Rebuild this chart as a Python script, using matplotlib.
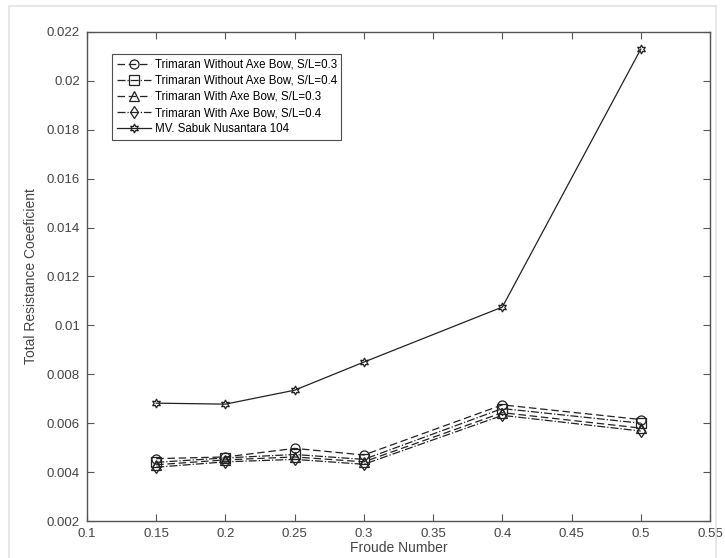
import numpy as np
import matplotlib.pyplot as plt
from matplotlib.patches import Rectangle

plt.rcParams['font.family'] = ['Liberation Sans', 'DejaVu Sans']

froude = [0.15, 0.2, 0.25, 0.3, 0.4, 0.5]

without_03 = [0.00455, 0.00462, 0.00497, 0.00470, 0.00675, 0.00615]
without_04 = [0.00440, 0.00458, 0.00472, 0.00452, 0.00660, 0.00600]
with_03 = [0.00430, 0.00450, 0.00462, 0.00442, 0.00643, 0.00580]
with_04 = [0.00420, 0.00442, 0.00452, 0.00432, 0.00632, 0.00568]
sabuk = [0.00682, 0.00678, 0.00735, 0.00850, 0.01075, 0.02130]

labels = ['Trimaran Without Axe Bow, S/L=0.3',
          'Trimaran Without Axe Bow, S/L=0.4',
          'Trimaran With Axe Bow, S/L=0.3',
          'Trimaran With Axe Bow, S/L=0.4',
          'MV. Sabuk Nusantara 104']

fig = plt.figure(figsize=(7.25, 5.58), dpi=100)
ax = fig.add_axes([87/725, 1 - 521/558, (710-87)/725, (521-32)/558])

# light frame around the whole figure (bottom edge runs off the image)
fig.patches.append(Rectangle((9/725, -0.02), 1 - 18/725, 1.02 - 6/558,
                             transform=fig.transFigure, fill=False,
                             edgecolor='#e3e3e3', lw=1.2))

lc = '#222222'
kw = dict(color=lc, lw=0.9, markersize=6.5, markerfacecolor='none',
          markeredgecolor=lc, markeredgewidth=0.9)
ax.plot(froude, without_03, linestyle=(0, (6, 3)), marker='o', label=labels[0], **kw)
ax.plot(froude, without_04, linestyle='-.', marker='s', label=labels[1], **kw)
ax.plot(froude, with_03, linestyle=(0, (6, 3)), marker='^', label=labels[2], **kw)
ax.plot(froude, with_04, linestyle='-.', marker='d', label=labels[3], **kw)
ax.plot(froude, sabuk, linestyle='-', marker=(6, 1, 0), label=labels[4], **kw)

ax.set_xlim(0.1, 0.55)
ax.set_ylim(0.002, 0.022)
ax.set_xticks(np.arange(0.1, 0.551, 0.05))
ax.set_xticklabels(['0.1', '0.15', '0.2', '0.25', '0.3', '0.35', '0.4', '0.45', '0.5', '0.55'])
ax.set_yticks(np.arange(0.002, 0.0221, 0.002))
ax.set_yticklabels(['0.002', '0.004', '0.006', '0.008', '0.01', '0.012',
                    '0.014', '0.016', '0.018', '0.02', '0.022'])

axc = '#555555'
for s in ax.spines.values():
    s.set_color(axc)
    s.set_linewidth(1.0)
ax.tick_params(direction='in', top=True, right=True, length=5, width=0.8,
               colors=axc, labelsize=9.5, labelcolor='#444444', pad=5)

ax.set_xlabel('Froude Number', fontsize=10, color='#444444', labelpad=1)
ax.set_ylabel('Total Resistance Coeeficient', fontsize=10, color='#444444', labelpad=6)

leg = ax.legend(loc='upper left', bbox_to_anchor=(0.04, 0.955), fontsize=8.3,
                frameon=True, fancybox=False, edgecolor='#222222',
                handlelength=3.0, handletextpad=0.3, borderpad=0.4,
                labelspacing=0.36, borderaxespad=0)
leg.get_frame().set_linewidth(0.8)

fig.savefig('out.png', dpi=100)
